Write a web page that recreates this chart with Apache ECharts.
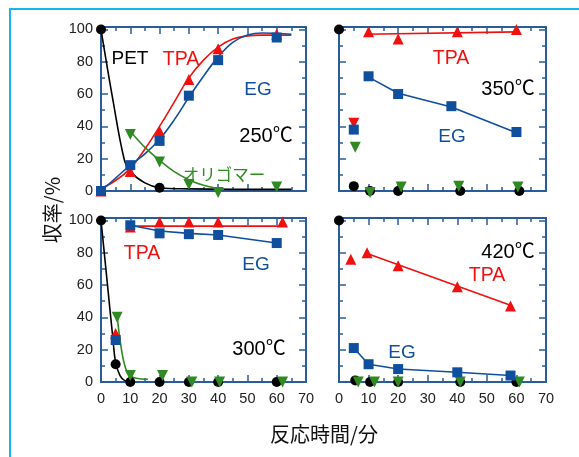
<!DOCTYPE html>
<html><head><meta charset="utf-8">
<script src="https://cdn.jsdelivr.net/npm/echarts@6/dist/echarts.min.js"></script>
<style>
html,body{margin:0;padding:0;background:#fff;overflow:hidden;}
#frame{position:absolute;left:9px;top:8px;width:640px;height:520px;border-left:2px solid #1ab4ea;border-top:2px solid #1ab4ea;}
#chart{position:absolute;left:0;top:0;width:579px;height:457px;}
</style></head><body>
<div id="frame"></div><div id="chart"></div>
<script>
// ---- tick labels ----
const xTickLabels = [0, 10, 20, 30, 40, 50, 60, 70];
const yTickLabels = [0, 20, 40, 60, 80, 100];

// ---- 250°C ----
const pet250 = [[0, 100], [20, 2]];
const pet250Curve = [[0, 100], [4, 57], [8, 19], [10, 12], [15, 5], [20, 2], [30, 1.3], [45, 1], [65, 1]];
const tpa250 = [[0, 0], [10, 12], [20, 37], [30, 69], [40, 88], [60, 97]];
const tpa250Curve = [[-1.5, 1.5], [0, 1.8], [5, 6.5], [10, 14], [15, 26], [20, 40], [25, 55], [30, 70], [35, 81], [40, 89], [45, 94], [50, 96], [55, 96.5], [65, 96.5]];
const eg250 = [[0, 0], [10, 16], [20, 31], [30, 59], [40, 81], [60, 95]];
const eg250Curve = [[0, 0], [5, 8], [10, 16], [15, 23], [20, 32], [25, 44], [30, 58], [35, 71], [40, 83], [45, 92], [50, 96.5], [55, 97.8], [60, 97.5], [65, 97]];
const oli250 = [[10, 35], [20, 18], [30, 4], [40, -1], [60, 2.5]];
const oli250Curve = [[10, 37], [15, 27], [20, 19], [25, 12], [30, 7], [35, 3.5], [40, 1.5], [42, 1]];

// ---- 350°C ----
const pet350 = [[0, 100], [5, 3], [10.5, 0], [20, 0], [41, 0], [61, 0]];
const tpa350 = [[10, 98.5], [20, 94], [40, 98.5], [60, 100]];
const tpa350Line = [[9, 97], [60, 98.5]];
const tpa350Early = [[5, 42]];
const eg350 = [[5, 38], [10, 71], [20, 60], [38, 52.5], [60, 36.5]];
const eg350Line = [[10, 70.5], [20, 60.5], [38, 52], [60, 36]];
const oli350 = [[5.5, 27], [10.5, -1], [21, 2.5], [40.5, 3], [60.5, 2.5]];

// ---- 300°C ----
const pet300 = [[0, 100], [5, 11], [10, 0], [20, 0], [30, 0], [40, 0], [60, 0]];
const pet300Curve = [[0, 100], [2, 64], [4, 28], [5, 12], [6.5, 4], [8, 1], [10, 0]];
const tpa300 = [[5, 30], [10, 96], [20, 99], [30, 99], [40, 99], [62, 99]];
const tpa300Line = [[9.5, 96.5], [63, 96.5]];
const eg300 = [[5, 26], [10, 97], [20, 92], [30, 91.5], [40, 91], [60, 86]];
const eg300Line = [[10, 97], [20, 93.5], [30, 92], [40, 91], [60, 86]];
const oli300 = [[5.5, 40], [10, 4], [21, 4], [31, 0], [40.5, 0], [62, 0]];
const oli300Curve = [[5.5, 41], [7, 20], [8.5, 8], [10, 4], [12, 2.3], [16, 1.6]];

// ---- 420°C ----
const pet420 = [[0, 100], [5.5, 1], [10.5, 0], [20, 0], [41, 0], [60, 0]];
const tpa420 = [[4, 76], [9.5, 80], [20, 72], [40, 59], [58, 47]];
const tpa420Line = [[9.5, 79.5], [58, 47.5]];
const eg420 = [[5, 21], [10, 11], [20, 8], [40, 6], [58, 4]];
const oli420 = [[6.5, 0], [12, 0], [20, 0], [41, 0], [61, 0]];

const FRAME = '#2a5c9c';
const RED = '#f01010';
const BLUE = '#0f4f9e';
const GREEN = '#2f8a22';
const BLACK = '#000000';
const LATIN = '"Liberation Sans", Arial, "Noto Sans CJK JP", sans-serif';
const CJK = '"Noto Sans CJK JP", sans-serif';

const grids = [
  {left: 101, top: 27, width: 205, height: 164},
  {left: 339, top: 27, width: 207, height: 164},
  {left: 101, top: 218, width: 205, height: 164},
  {left: 339, top: 218, width: 207, height: 164}
];

function xAx(gi, pos, labels) {
  return {
    type: 'value', gridIndex: gi, position: pos, min: 0, max: 70, interval: 10,
    axisLine: {show: true, onZero: false, lineStyle: {color: FRAME, width: 2}},
    axisTick: {show: true, inside: true, length: 7, lineStyle: {color: FRAME, width: 1.5}},
    minorTick: {show: true, splitNumber: 2, length: 4, lineStyle: {color: FRAME, width: 1.5}},
    splitLine: {show: false}, minorSplitLine: {show: false},
    axisLabel: {show: labels, margin: 10, color: '#222', fontSize: 14.5, fontFamily: LATIN,
      formatter: v => xTickLabels.includes(v) ? String(v) : ''}
  };
}
function yAx(gi, pos, labels) {
  return {
    type: 'value', gridIndex: gi, position: pos, min: 0, max: 101.5, interval: 20,
    axisLine: {show: true, onZero: false, lineStyle: {color: FRAME, width: 2}},
    axisTick: {show: true, inside: true, length: 7, lineStyle: {color: FRAME, width: 1.5}},
    minorTick: {show: true, splitNumber: 2, length: 4, lineStyle: {color: FRAME, width: 1.5}},
    splitLine: {show: false}, minorSplitLine: {show: false},
    axisLabel: {show: labels, margin: 8, color: '#222', fontSize: 14.5, fontFamily: LATIN,
      formatter: v => yTickLabels.includes(v) ? String(v) : ''}
  };
}

const xAxes = [], yAxes = [];
for (let g = 0; g < 4; g++) {
  xAxes.push(xAx(g, 'bottom', g >= 2));
  xAxes.push(xAx(g, 'top', false));
  yAxes.push(yAx(g, 'left', g % 2 === 0));
  yAxes.push(yAx(g, 'right', false));
}

function curve(g, data, color, smooth) {
  return {type: 'line', xAxisIndex: g * 2, yAxisIndex: g * 2, data: data, showSymbol: false,
    smooth: smooth ? 0.4 : false, clip: false, silent: true,
    lineStyle: {color: color, width: 1.6}, z: 2};
}
function marks(g, data, color, symbol, size, rotate) {
  return {type: 'scatter', xAxisIndex: g * 2, yAxisIndex: g * 2, data: data, symbol: symbol,
    symbolSize: size, symbolRotate: rotate || 0, clip: false, silent: true,
    itemStyle: {color: color, opacity: 1}, z: 3};
}
const CIR = 10, SQ = 10, TRI = 11;

const series = [
  // 250
  curve(0, pet250Curve, BLACK, true),
  curve(0, tpa250Curve, RED, true),
  curve(0, eg250Curve, BLUE, true),
  curve(0, oli250Curve, GREEN, true),
  marks(0, oli250, GREEN, 'triangle', TRI, 180),
  marks(0, pet250, BLACK, 'circle', CIR),
  marks(0, tpa250, RED, 'triangle', TRI),
  marks(0, eg250, BLUE, 'rect', SQ),
  // 350
  curve(1, tpa350Line, RED, false),
  curve(1, eg350Line, BLUE, false),
  marks(1, pet350, BLACK, 'circle', CIR),
  marks(1, oli350, GREEN, 'triangle', TRI, 180),
  marks(1, tpa350, RED, 'triangle', TRI),
  marks(1, tpa350Early, RED, 'triangle', TRI, 180),
  marks(1, eg350, BLUE, 'rect', SQ),
  // 300
  curve(2, pet300Curve, BLACK, true),
  curve(2, oli300Curve, GREEN, true),
  curve(2, tpa300Line, RED, false),
  curve(2, eg300Line, BLUE, false),
  marks(2, pet300, BLACK, 'circle', CIR),
  marks(2, oli300, GREEN, 'triangle', TRI, 180),
  marks(2, tpa300, RED, 'triangle', TRI),
  marks(2, eg300, BLUE, 'rect', SQ),
  // 420
  curve(3, tpa420Line, RED, false),
  curve(3, eg420, BLUE, false),
  marks(3, pet420, BLACK, 'circle', CIR),
  marks(3, oli420, GREEN, 'triangle', TRI, 180),
  marks(3, tpa420, RED, 'triangle', TRI),
  marks(3, eg420, BLUE, 'rect', SQ)
];

function txt(x, y, s, color, size, font) {
  return {type: 'text', x: x, y: y, z: 10, silent: true,
    style: {text: s, fill: color, fontSize: size, fontFamily: font || LATIN, align: 'center', verticalAlign: 'middle'}};
}

const graphic = [
  txt(130, 59, 'PET', BLACK, 19),
  txt(181, 60, 'TPA', RED, 19.5),
  txt(258, 90, 'EG', BLUE, 19),
  txt(266, 136, '250℃', BLACK, 20),
  txt(224, 175, 'オリゴマー', GREEN, 16.5, CJK),
  txt(451, 59, 'TPA', RED, 19.5),
  txt(508, 89, '350℃', BLACK, 20),
  txt(452, 137, 'EG', BLUE, 19),
  txt(142, 254, 'TPA', RED, 19.5),
  txt(256, 265, 'EG', BLUE, 19),
  txt(259, 349, '300℃', BLACK, 20),
  txt(508, 252, '420℃', BLACK, 20),
  txt(487, 276, 'TPA', RED, 19.5),
  txt(402, 353, 'EG', BLUE, 19),
  txt(324, 434, '反応時間/分', '#111', 20, CJK),
  {type: 'text', x: 52, y: 210, rotation: Math.PI / 2, z: 10, silent: true,
    style: {text: '収率/%', fill: '#111', fontSize: 20, fontFamily: CJK, align: 'center', verticalAlign: 'middle'}}
];

const chart = echarts.init(document.getElementById('chart'), null, {renderer: 'canvas'});
chart.setOption({
  animation: false,
  backgroundColor: 'transparent',
  grid: grids,
  xAxis: xAxes,
  yAxis: yAxes,
  series: series,
  graphic: graphic
});
</script>
</body></html>
